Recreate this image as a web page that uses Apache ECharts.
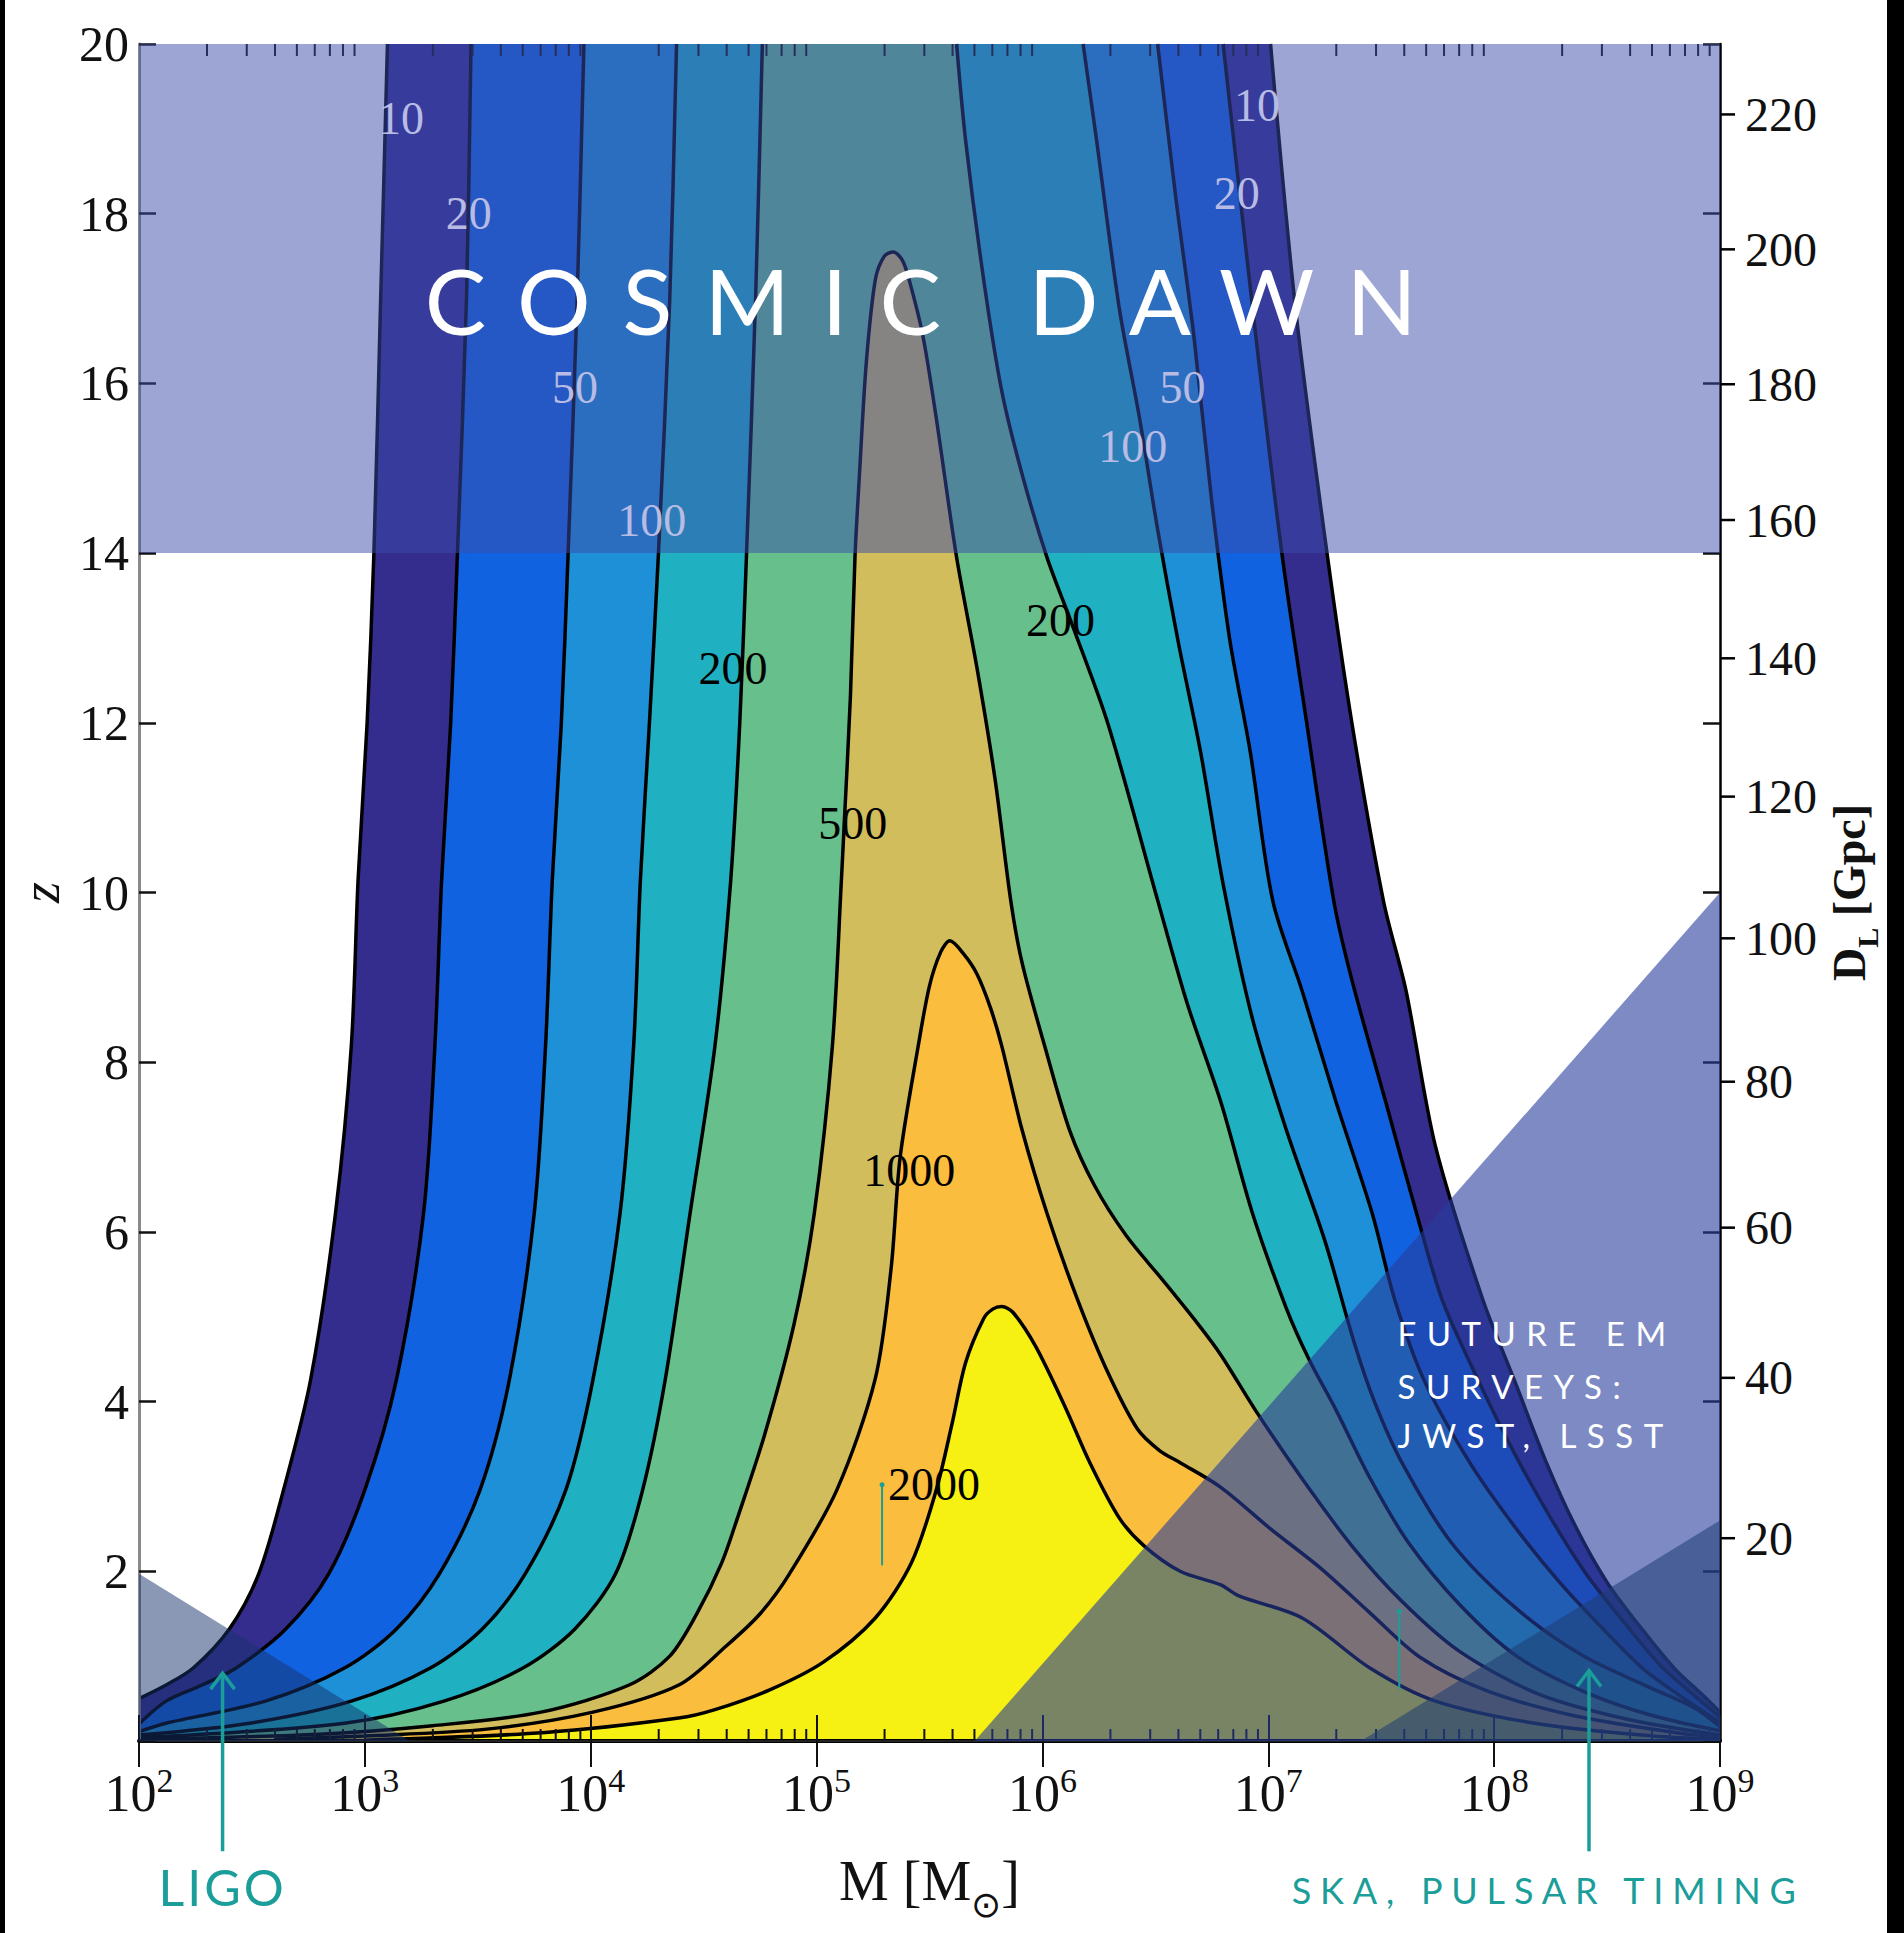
<!DOCTYPE html>
<html>
<head>
<meta charset="utf-8">
<title>SNR contours</title>
<script src="https://cdn.jsdelivr.net/npm/echarts@6.0.0/dist/echarts.min.js"></script>
<style>
html, body { margin: 0; padding: 0; background: #fff; }
#main { width: 1904px; height: 1933px; }
</style>
</head>
<body>
<div id="main"></div>
<script>
// SNR levels and their fill colours
const LEVELS = [10, 20, 50, 100, 200, 500, 1000, 2000];
const FILLS = ['#352d8e', '#1162e0', '#1d90d7', '#1fb0c2', '#67c08b', '#d2bd5d', '#fbbd3d', '#f6f013'];

// contour curves as [log10(M), z]
const C10 = [[2.00,0.50],[2.12,0.66],[2.24,0.86],[2.40,1.32],[2.53,1.97],[2.64,2.96],[2.76,4.26],[2.87,6.22],[2.94,8.19],[2.97,10.15],[3.01,12.0],[3.04,14.0],[3.07,17.0],[3.10,20],
  [7.01,20],[7.12,16.9],[7.26,14.0],[7.37,12.0],[7.51,9.9],[7.61,8.84],[7.74,7.01],[7.95,5.2],[8.09,4.25],[8.23,3.29],[8.36,2.53],[8.50,1.87],[8.66,1.30],[8.80,0.85],[8.92,0.55],[9.00,0.34]];
const C20 = [[2.00,0.20],[2.12,0.47],[2.28,0.66],[2.43,0.86],[2.65,1.32],[2.84,1.97],[3.00,2.96],[3.14,4.26],[3.26,6.22],[3.31,8.19],[3.34,10.15],[3.38,12.0],[3.41,14.0],[3.45,17.0],[3.47,20],
  [6.80,20],[6.93,16.9],[7.06,14.0],[7.17,12.0],[7.29,9.9],[7.37,8.97],[7.52,7.53],[7.67,6.09],[7.77,5.2],[7.93,4.25],[8.09,3.39],[8.25,2.63],[8.41,1.96],[8.59,1.35],[8.74,0.88],[8.88,0.55],[9.00,0.28]];
const C50 = [[2.00,0.11],[2.12,0.21],[2.56,0.47],[2.91,0.86],[3.14,1.32],[3.33,1.97],[3.51,2.96],[3.64,4.26],[3.75,6.22],[3.80,8.19],[3.83,10.15],[3.87,12.0],[3.90,14.0],[3.94,17.0],[3.97,20],
  [6.51,20],[6.59,18.2],[6.67,16.57],[6.75,14.6],[6.83,12.97],[6.92,11.66],[7.02,9.9],[7.15,8.84],[7.30,7.53],[7.46,6.22],[7.56,5.2],[7.69,4.25],[7.89,3.29],[8.09,2.53],[8.29,1.87],[8.49,1.30],[8.66,0.85],[8.83,0.52],[9.00,0.22]];
const C100 = [[2.00,0.07],[2.49,0.21],[2.94,0.47],[3.29,0.86],[3.52,1.32],[3.71,1.97],[3.89,2.96],[4.01,4.26],[4.13,6.22],[4.19,8.19],[4.22,10.15],[4.26,12.0],[4.30,14.0],[4.35,17.0],[4.38,20],
  [6.18,20],[6.24,18.86],[6.34,16.89],[6.43,15.59],[6.51,14.28],[6.60,12.97],[6.70,11.66],[6.80,10.1],[6.93,8.51],[7.08,7.20],[7.25,5.9],[7.38,4.7],[7.47,4.0],[7.59,3.29],[7.81,2.34],[8.09,1.58],[8.39,1.01],[8.69,0.63],[8.88,0.40],[9.00,0.17]];
const C200 = [[2.00,0.04],[2.91,0.21],[3.35,0.47],[3.70,0.86],[3.93,1.32],[4.11,1.97],[4.23,2.96],[4.33,4.26],[4.44,6.22],[4.55,8.19],[4.62,10.15],[4.66,12.0],[4.69,14.0],[4.73,17.0],[4.76,20],
  [5.62,20],[5.66,18.86],[5.74,17.22],[5.82,15.91],[5.91,14.93],[6.02,13.95],[6.13,13.17],[6.29,11.99],[6.51,9.91],[6.64,8.7],[6.79,7.53],[6.93,6.22],[7.08,5.1],[7.18,4.5],[7.30,3.9],[7.45,3.1],[7.62,2.34],[7.85,1.6],[8.10,1.0],[8.40,0.58],[8.70,0.30],[9.00,0.12]];
const C500 = [[2.00,0.02],[2.80,0.08],[3.30,0.18],[3.78,0.34],[4.17,0.66],[4.35,1.0],[4.47,1.5],[4.58,2.1],[4.65,2.63],[4.77,3.61],[4.90,4.91],[4.99,6.22],[5.07,8.19],[5.11,10.15],[5.12,10.68],[5.15,12.32],[5.17,13.95],[5.19,14.93],[5.22,16.24],[5.26,17.22],[5.30,17.5],[5.34,17.55],[5.38,17.45],[5.41,17.22],[5.47,16.57],[5.53,15.59],[5.62,13.95],[5.71,12.65],[5.79,11.34],[5.86,9.9],[5.91,9.17],[6.01,8.19],[6.12,7.20],[6.23,6.55],[6.37,5.96],[6.53,5.44],[6.69,4.91],[6.79,4.55],[6.95,3.87],[7.15,3.09],[7.37,2.30],[7.59,1.65],[7.85,1.05],[8.20,0.55],[8.60,0.25],[9.00,0.07]];
const C1000 = [[2.60,0.02],[3.00,0.06],[3.54,0.14],[4.01,0.34],[4.39,0.66],[4.60,1.12],[4.75,1.5],[4.88,1.97],[5.09,2.96],[5.26,4.27],[5.33,5.57],[5.37,6.88],[5.45,8.19],[5.50,8.9],[5.55,9.3],[5.59,9.43],[5.65,9.28],[5.71,9.04],[5.77,8.64],[5.82,8.19],[5.91,7.20],[6.02,6.22],[6.15,5.24],[6.28,4.40],[6.42,3.68],[6.52,3.42],[6.61,3.28],[6.79,2.99],[7.01,2.50],[7.23,2.04],[7.45,1.51],[7.67,0.99],[7.96,0.60],[8.35,0.30],[8.80,0.10],[9.00,0.04]];
const C2000 = [[3.00,0.01],[3.80,0.10],[4.39,0.27],[4.55,0.37],[4.79,0.60],[5.03,0.93],[5.26,1.45],[5.42,2.10],[5.53,2.96],[5.60,3.74],[5.66,4.46],[5.74,4.98],[5.78,5.09],[5.82,5.12],[5.87,5.05],[5.97,4.65],[6.10,3.94],[6.21,3.28],[6.34,2.63],[6.45,2.30],[6.61,2.0],[6.79,1.84],[6.87,1.71],[7.15,1.45],[7.45,0.86],[7.74,0.47],[8.20,0.20],[8.70,0.06],[9.00,0.02]];
const CONTOURS = [C10, C20, C50, C100, C200, C500, C1000, C2000];

// contour labels
const LABEL_TEXT = ['10', '20', '50', '100', '200', '500', '1000', '2000', '200', '100', '50', '20', '10'];
const LABEL_LGM = [3.16, 3.46, 3.93, 4.27, 4.63, 5.16, 5.41, 5.52, 6.08, 6.40, 6.62, 6.86, 6.95];
const LABEL_Z = [19.12, 18.0, 15.95, 14.38, 12.64, 10.81, 6.72, 3.02, 13.2, 15.26, 15.95, 18.24, 19.28];
const LABEL_LIGHT = [1, 1, 1, 1, 0, 0, 0, 0, 0, 1, 1, 1, 1];

// shaded regions, [log10(M), z]
const COSMIC_DAWN = [[2, 14], [9, 14], [9, 20], [2, 20]];
const LIGO_BAND = [[2, 0], [2, 1.97], [3.2, 0]];
const EM_BAND = [[5.70, 0], [9, 10], [9, 0]];
const SKA_BAND = [[7.41, 0], [9, 2.6], [9, 0]];

// right axis: luminosity distance ticks and the redshift they fall at
const DL_TICKS = [20, 40, 60, 80, 100, 120, 140, 160, 180, 200, 220];
const DL_Z = [2.39, 4.28, 6.05, 7.77, 9.46, 11.13, 12.76, 14.39, 15.99, 17.58, 19.17];

// minor ticks of the mass axis
const X_DECADES = [2, 3, 4, 5, 6, 7, 8];
const X_MINOR = [2, 3, 4, 5, 6, 7, 8, 9];

// arrows and small markers
const ARROW_LGM = [2.37, 8.42];
const ARROW_FROM = [-1.30, -1.30];
const ARROW_TO = [0.80, 0.83];
const MARK_LGM = [5.29, 7.58];
const MARK_FROM = [2.07, 0.61];
const MARK_TO = [3.02, 1.53];

// annotations
const NOTE_TEXT = ['COSMIC DAWN', 'FUTURE EM', 'SURVEYS:', 'JWST, LSST', 'LIGO', 'SKA, PULSAR TIMING'];
const NOTE_LGM = [3.265, 7.572, 7.572, 7.572, 2.37, 7.104];
const NOTE_Z = [16.99, 4.81, 4.18, 3.61, -1.72, -1.76];

const TEAL = '#1b9e99';
const SERIF = '"Liberation Serif", "Times New Roman", serif';
const NOTE_STYLE = [
  { size: 92, color: '#ffffff', align: 'left', spacing: 32 },
  { size: 33, color: '#ffffff', align: 'left', spacing: 10.5 },
  { size: 33, color: '#ffffff', align: 'left', spacing: 10.5 },
  { size: 33, color: '#ffffff', align: 'left', spacing: 10.5 },
  { size: 50, color: TEAL, align: 'center', spacing: 3 },
  { size: 36, color: TEAL, align: 'left', spacing: 8.8 }
];

const M = lg => Math.pow(10, lg);
const toXY = arr => arr.map(p => [M(p[0]), p[1]]);

// split a contour where it runs along the top edge (z = 20)
function branches(c) {
  const tops = [];
  c.forEach((p, i) => { if (p[1] >= 20) tops.push(i); });
  if (tops.length < 2) return [c];
  return [c.slice(0, tops[0] + 1), c.slice(tops[tops.length - 1])];
}

function polygonSeries(name, verts, fill) {
  return {
    type: 'custom', name: name, z: 4, silent: true,
    data: [toXY(verts)[0]],
    renderItem: (params, api) => ({
      type: 'polygon',
      shape: { points: toXY(verts).map(v => api.coord(v)) },
      style: { fill: fill }
    })
  };
}

var chartDom = document.getElementById('main');
var myChart = echarts.init(chartDom, null, { renderer: 'svg' });

const series = [];

// filled bands, painted from the lowest level upwards
CONTOURS.forEach((c, k) => {
  const parts = branches(c);
  parts.forEach(b => {
    series.push({
      type: 'line', name: 'SNR > ' + LEVELS[k], data: toXY(b), z: 1, silent: true,
      smooth: 0.3, symbol: 'none', lineStyle: { width: 0 },
      areaStyle: { color: FILLS[k], opacity: 1 }
    });
  });
  if (parts.length === 2) {
    // the part between the two branches reaches the top of the plot
    const xl = parts[0][parts[0].length - 1][0];
    const xr = parts[1][0][0];
    series.push({
      type: 'custom', z: 1, silent: true, clip: true,
      data: [[M(xl), 0]],
      renderItem: (params, api) => {
        const a = api.coord([M(xl), 0]);
        const b = api.coord([M(xr), 20]);
        return {
          type: 'rect',
          shape: { x: a[0], y: b[1], width: b[0] - a[0], height: a[1] - b[1] },
          style: { fill: FILLS[k], stroke: FILLS[k], lineWidth: 2 }
        };
      }
    });
  }
});

// black contour lines
CONTOURS.forEach(c => {
  branches(c).forEach(b => {
    series.push({
      type: 'line', data: toXY(b), z: 2, silent: true,
      smooth: 0.3, symbol: 'none', lineStyle: { color: '#000', width: 3.5 }
    });
  });
});

// minor ticks on the mass axis, bottom and top
const minorTicks = [];
X_DECADES.forEach(d => X_MINOR.forEach(m => minorTicks.push([m * M(d), 0])));
series.push({
  type: 'custom', z: 3, silent: true, data: minorTicks,
  renderItem: (params, api) => {
    const b = api.coord([api.value(0), 0]);
    const t = api.coord([api.value(0), 20]);
    const st = { stroke: '#111', lineWidth: 2 };
    return {
      type: 'group', children: [
        { type: 'line', shape: { x1: b[0], y1: b[1], x2: b[0], y2: b[1] - 12 }, style: st },
        { type: 'line', shape: { x1: t[0], y1: t[1], x2: t[0], y2: t[1] + 12 }, style: st }
      ]
    };
  }
});

// right axis ticks and labels for D_L
series.push({
  type: 'custom', z: 3, silent: true, yAxisIndex: 1, clip: false,
  data: DL_Z.map(z => [M(9), z]),
  renderItem: (params, api) => {
    const p = api.coord([api.value(0), api.value(1)]);
    return {
      type: 'group', children: [
        { type: 'line', shape: { x1: p[0], y1: p[1], x2: p[0] + 15, y2: p[1] }, style: { stroke: '#000', lineWidth: 2.5 } },
        { type: 'text', x: p[0] + 25, y: p[1], style: { text: String(DL_TICKS[params.dataIndex]), fontSize: 48, fontFamily: SERIF, fill: '#111', align: 'left', verticalAlign: 'middle' } }
      ]
    };
  }
});

// shaded regions
series.push(polygonSeries('Cosmic dawn', COSMIC_DAWN, 'rgba(58,75,170,0.5)'));
series.push(polygonSeries('LIGO', LIGO_BAND, 'rgba(21,49,107,0.5)'));
series.push(polygonSeries('Future EM surveys', EM_BAND, 'rgba(38,60,157,0.6)'));
series.push(polygonSeries('SKA', SKA_BAND, 'rgba(30,60,115,0.55)'));

// contour labels
series.push({
  type: 'custom', z: 5, silent: true,
  data: LABEL_LGM.map((lg, i) => [M(lg), LABEL_Z[i]]),
  renderItem: (params, api) => {
    const p = api.coord([api.value(0), api.value(1)]);
    const i = params.dataIndex;
    return {
      type: 'text', x: p[0], y: p[1],
      style: { text: LABEL_TEXT[i], fontSize: 46, fontFamily: SERIF, fill: LABEL_LIGHT[i] ? '#b8bce4' : '#000', align: 'center', verticalAlign: 'middle' }
    };
  }
});

// teal arrows
series.push({
  type: 'custom', z: 6, silent: true, clip: false,
  data: ARROW_LGM.map((lg, i) => [M(lg), ARROW_TO[i]]),
  renderItem: (params, api) => {
    const i = params.dataIndex;
    const a = api.coord([M(ARROW_LGM[i]), ARROW_FROM[i]]);
    const b = api.coord([M(ARROW_LGM[i]), ARROW_TO[i]]);
    const st = { stroke: TEAL, lineWidth: 3.5, fill: null };
    return {
      type: 'group', children: [
        { type: 'line', shape: { x1: a[0], y1: a[1], x2: b[0], y2: b[1] }, style: st },
        { type: 'polyline', shape: { points: [[b[0] - 12, b[1] + 16], [b[0], b[1]], [b[0] + 12, b[1] + 16]] }, style: st }
      ]
    };
  }
});

// small teal markers
series.push({
  type: 'custom', z: 6, silent: true,
  data: MARK_LGM.map((lg, i) => [M(lg), MARK_TO[i]]),
  renderItem: (params, api) => {
    const i = params.dataIndex;
    const a = api.coord([M(MARK_LGM[i]), MARK_FROM[i]]);
    const b = api.coord([M(MARK_LGM[i]), MARK_TO[i]]);
    return {
      type: 'group', children: [
        { type: 'line', shape: { x1: a[0], y1: a[1], x2: b[0], y2: b[1] }, style: { stroke: TEAL, lineWidth: 2 } },
        { type: 'circle', shape: { cx: b[0], cy: b[1], r: 2.5 }, style: { fill: TEAL } }
      ]
    };
  }
});

// annotations
series.push({
  type: 'custom', z: 7, silent: true, clip: false,
  data: NOTE_LGM.map((lg, i) => [M(lg), NOTE_Z[i]]),
  renderItem: (params, api) => {
    const p = api.coord([api.value(0), api.value(1)]);
    const i = params.dataIndex;
    const s = NOTE_STYLE[i];
    return {
      type: 'text', x: p[0], y: p[1],
      style: { text: NOTE_TEXT[i], fontSize: s.size, fontFamily: 'Lato, "Open Sans", sans-serif', fill: s.color, align: s.align, verticalAlign: 'middle' }
    };
  }
});

const xAxisBase = {
  type: 'log', logBase: 10, min: 100, max: 1e9, splitNumber: 7, z: 3,
  splitLine: { show: false },
  axisTick: { inside: true, length: 26, lineStyle: { color: '#111', width: 2 } }
};

var option = {
  animation: false,
  backgroundColor: '#fff',
  grid: { left: 139, top: 44, width: 1581, height: 1697, containLabel: false, outerBoundsMode: 'none' },
  xAxis: [
    Object.assign({}, xAxisBase, {
      position: 'bottom',
      axisLine: { lineStyle: { color: '#000', width: 4 } },
      axisLabel: {
        margin: 22,
        formatter: v => '{b|10}{s|' + Math.round(Math.log10(v)) + '}',
        rich: {
          b: { fontSize: 52, fontFamily: SERIF, color: '#111', lineHeight: 60 },
          s: { fontSize: 34, fontFamily: SERIF, color: '#111', lineHeight: 34, verticalAlign: 'top' }
        }
      },
      name: '{a|M [M}{s|⊙}{a|]}',
      nameLocation: 'middle',
      nameGap: 112,
      nameTextStyle: {
        rich: {
          a: { fontSize: 56, fontFamily: SERIF, color: '#111' },
          s: { fontSize: 36, fontFamily: SERIF, color: '#111', verticalAlign: 'bottom', padding: [0, 0, -14, 0] }
        }
      }
    }),
    Object.assign({}, xAxisBase, {
      position: 'top',
      axisLine: { lineStyle: { color: '#222', width: 2 } },
      axisLabel: { show: false }
    })
  ],
  yAxis: [
    {
      type: 'value', min: 0, max: 20, interval: 2, position: 'left', z: 3,
      splitLine: { show: false },
      axisLine: { lineStyle: { color: '#8a8a8a', width: 3 } },
      axisTick: { inside: true, length: 17, lineStyle: { color: '#111', width: 2.5 } },
      axisLabel: { margin: 10, fontSize: 50, fontFamily: SERIF, color: '#111', formatter: v => (v === 0 ? '' : String(v)) },
      name: 'z', nameLocation: 'middle', nameGap: 70, nameRotate: 90,
      nameTextStyle: { fontSize: 54, fontFamily: SERIF, fontStyle: 'italic', color: '#111' }
    },
    {
      type: 'value', min: 0, max: 20, interval: 2, position: 'right', z: 3,
      splitLine: { show: false },
      axisLine: { lineStyle: { color: '#000', width: 2.5 } },
      axisTick: { inside: true, length: 17, lineStyle: { color: '#111', width: 2.5 } },
      axisLabel: { show: false },
      name: '{a|D}{s|L}{a| [Gpc]}', nameLocation: 'middle', nameGap: 106, nameRotate: 90,
      nameTextStyle: {
        rich: {
          a: { fontSize: 46, fontFamily: SERIF, fontWeight: 'bold', color: '#111' },
          s: { fontSize: 30, fontFamily: SERIF, fontWeight: 'bold', color: '#111', verticalAlign: 'bottom', padding: [0, 0, -10, 0] }
        }
      }
    }
  ],
  graphic: [
    { type: 'rect', left: 0, top: 0, shape: { width: 5, height: 1933 }, style: { fill: '#000' }, silent: true },
    { type: 'rect', right: 0, top: 0, shape: { width: 17, height: 1933 }, style: { fill: '#000' }, silent: true }
  ],
  series: series
};

// the annotations are letter-spaced in the original slide
function spaceOut() {
  const spacing = {};
  NOTE_TEXT.forEach((t, i) => { spacing[t] = NOTE_STYLE[i].spacing; });
  chartDom.querySelectorAll('svg text').forEach(el => {
    const s = spacing[el.textContent];
    if (s) el.style.letterSpacing = s + 'px';
  });
}

myChart.on('finished', spaceOut);
myChart.setOption(option);
spaceOut();

window.addEventListener('resize', () => {
  myChart.resize();
});
</script>
</body>
</html>
